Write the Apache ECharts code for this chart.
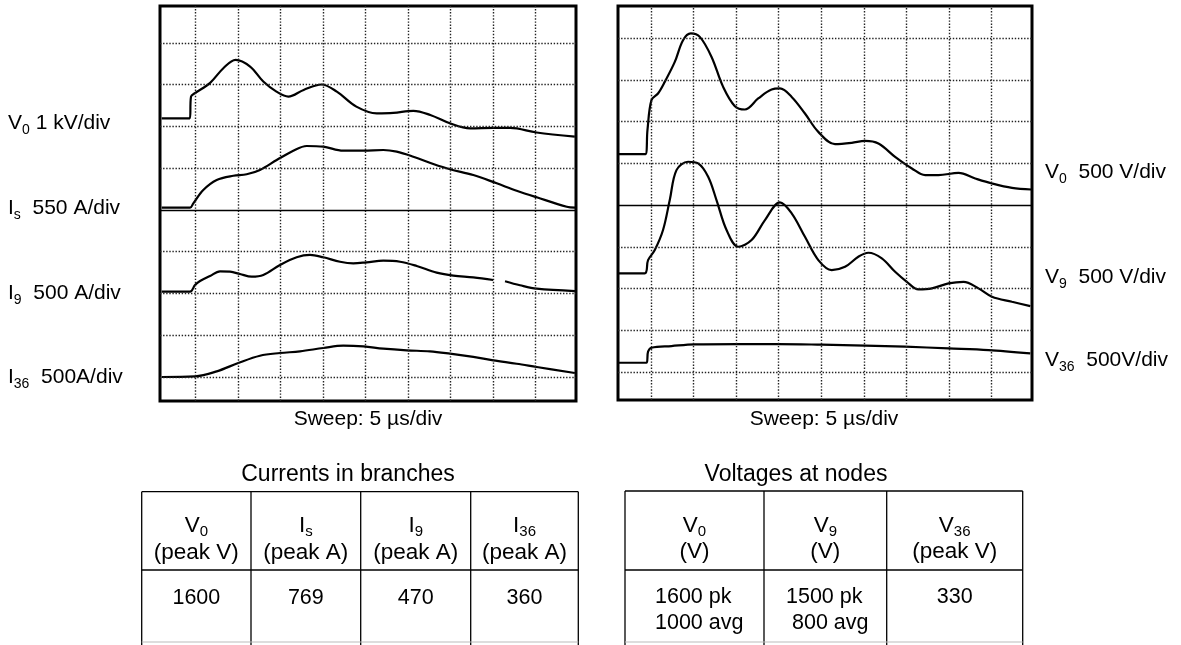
<!DOCTYPE html>
<html><head><meta charset="utf-8">
<script src="https://cdn.jsdelivr.net/npm/echarts@6/dist/echarts.min.js"></script>
<style>html,body{margin:0;padding:0;background:#fff}#c{width:1181px;height:645px}</style>
</head><body><div id="c"></div>
<script>
// ---------- DATA (time in microseconds, 5 us/div) ----------
// Left oscillogram: currents in branches
const tV0L = [1.0, 4.3, 4.45, 4.9, 6.7, 8.25, 9.7, 11.4, 12.95, 14.5, 15.9, 17.7, 19.8, 21.6, 23.9, 26.3, 28.25, 30.6, 32.6, 34.9, 37.3, 40.0, 42.0, 45.1, 49.6];
const vV0L = [0, 0, 520, 600, 850, 1200, 1400, 1240, 880, 640, 520, 680, 810, 640, 280, 120, 130, 180, 80, -120, -240, -230, -230, -340, -440]; // V

const tIsL = [1.0, 4.33, 4.72, 5.89, 7.47, 9.42, 11.0, 12.56, 14.53, 16.48, 18.06, 20.01, 22.36, 24.72, 27.07, 28.65, 30.6, 32.95, 34.92, 37.66, 40.41, 42.76, 45.12, 48.65, 49.62];
const vIsL = [0, 0, 58, 233, 365, 421, 440, 497, 628, 751, 813, 804, 751, 751, 760, 738, 672, 576, 506, 431, 321, 224, 137, 13, 0]; // A

const tI9L = [1.0, 4.33, 4.92, 5.51, 6.68, 7.86, 9.04, 10.21, 11.59, 12.95, 14.92, 16.88, 18.45, 20.01, 21.98, 23.54, 25.12, 27.07, 29.04, 31.0, 33.35, 35.31, 37.66, 40.01, 40.7, 41.39, 43.15, 45.12, 49.62];
const vI9L = [0, 0, 80, 128, 188, 244, 240, 212, 180, 200, 320, 412, 440, 412, 359, 340, 352, 371, 359, 308, 228, 192, 172, 140, null, 125, 77, 36, 8]; // A

const tI36L = [1.0, 4.92, 7.47, 10.01, 12.56, 14.92, 17.27, 20.01, 22.36, 24.72, 27.07, 29.82, 32.56, 34.92, 37.66, 40.01, 42.76, 45.12, 49.6];
const vI36L = [0, 7, 67, 168, 255, 287, 307, 347, 375, 366, 339, 319, 307, 279, 240, 199, 159, 120, 48]; // A

// Right oscillogram: voltages at nodes
const tV0R = [1.12, 4.34, 4.58, 5.05, 5.82, 6.61, 7.79, 8.76, 9.67, 10.73, 12.11, 13.47, 14.85, 16.02, 17.59, 19.16, 20.14, 21.52, 23.08, 24.65, 26.61, 28.58, 30.15, 31.71, 33.67, 35.64, 37.2, 38.76, 41.12, 43.08, 45.05, 47.4, 49.67];
const vV0R = [0, 0, 287, 647, 727, 866, 1105, 1365, 1446, 1405, 1165, 806, 575, 535, 667, 775, 787, 686, 487, 267, 120, 135, 159, 128, -32, -171, -251, -251, -224, -291, -351, -404, -423]; // V

const tV9R = [1.12, 4.26, 4.65, 5.44, 6.41, 7.2, 7.99, 9.35, 10.53, 11.71, 12.69, 13.87, 15.24, 16.81, 18.38, 20.14, 21.52, 23.08, 24.65, 26.22, 27.79, 29.35, 30.53, 32.11, 33.67, 35.05, 36.41, 37.99, 39.94, 41.71, 43.47, 45.05, 47.4, 49.55];
const vV9R = [0, 0, 159, 279, 519, 878, 1237, 1337, 1317, 1157, 878, 519, 319, 399, 638, 850, 719, 438, 159, 40, 79, 199, 247, 180, 19, -101, -192, -180, -120, -101, -180, -280, -340, -392]; // V

const tV36R = [1.12, 4.46, 4.65, 5.05, 7.4, 10.14, 15.24, 19.94, 25.05, 30.15, 34.86, 39.94, 44.65, 49.55];
const vV36R = [0, 0, 132, 180, 200, 220, 224, 224, 216, 204, 192, 172, 152, 113]; // V

// Graticule (time gridlines in us, vertical divisions)
const gridTimes = [5, 10, 15, 20, 25, 30, 35, 40, 45];
const gridDivs = [0, 1, 2, 3, 4, 5, 6, 7, 8];
const centerDiv = 4;

// Tables
const currentsTitle = 'Currents in branches';
const currentsSym = [['V', '0'], ['I', 's'], ['I', '9'], ['I', '36']];
const currentsUnit = ['(peak V)', '(peak A)', '(peak A)', '(peak A)'];
const currentsVal = ['1600', '769', '470', '360'];

const voltagesTitle = 'Voltages at nodes';
const voltagesSym = [['V', '0'], ['V', '9'], ['V', '36']];
const voltagesUnit = ['(V)', '(V)', '(peak V)'];
const voltagesPk = ['1600 pk', '1500 pk', '330'];
const voltagesAvg = ['1000 avg', '800 avg', ''];

const leftLabels = [['V', '0', ' 1 kV/div'], ['I', 's', '  550 A/div'], ['I', '9', '  500 A/div'], ['I', '36', '  500A/div']];
const rightLabels = [['V', '0', '  500 V/div'], ['V', '9', '  500 V/div'], ['V', '36', '  500V/div']];
const sweepLabel = 'Sweep: 5 \u00b5s/div';

// ---------- LAYOUT / STYLE ----------
const traces = [
  { g: 0, t: tV0L, v: vV0L, perDiv: 1000, base: 6.196 },
  { g: 0, t: tIsL, v: vIsL, perDiv: 550, base: 4.055 },
  { g: 0, t: tI9L, v: vI9L, perDiv: 500, base: 2.043 },
  { g: 0, t: tI36L, v: vI36L, perDiv: 500, base: 0.0 },
  { g: 1, t: tV0R, v: vV0R, perDiv: 500, base: 5.22 },
  { g: 1, t: tV9R, v: vV9R, perDiv: 500, base: 2.364 },
  { g: 1, t: tV36R, v: vV36R, perDiv: 500, base: 0.223 }
];
const FONT = '"Liberation Sans", Arial, Helvetica, sans-serif';
const dot = { color: '#222', width: 1.4, type: [1.4, 1.7] };
const solid = { color: '#000', width: 1.3, type: 'solid' };
const rich = {
  m: { fontSize: 21, fontFamily: FONT, fill: '#000' },
  s: { fontSize: 14, fontFamily: FONT, fill: '#000', padding: [14, 0, 0, 0] },
  h: { fontSize: 22.5, fontFamily: FONT, fill: '#000' },
  hs: { fontSize: 15, fontFamily: FONT, fill: '#000', padding: [12, 0, 0, 0] }
};

function markLines() {
  return {
    silent: true, symbol: ['none', 'none'], label: { show: false }, animation: false,
    emphasis: { disabled: true },
    data: gridTimes.map(t => ({ xAxis: t, lineStyle: dot }))
      .concat(gridDivs.map(d => ({ yAxis: d, lineStyle: d === centerDiv ? solid : dot })))
  };
}

const series = traces.map((tr, i) => {
  const s = {
    type: 'line', xAxisIndex: tr.g, yAxisIndex: tr.g,
    data: tr.t.map((t, k) => tr.v[k] == null ? [t, '-'] : [t, tr.base + tr.v[k] / tr.perDiv]),
    showSymbol: false, symbol: 'none', smooth: 0.35, connectNulls: false,
    lineStyle: { color: '#000', width: 2.2 }, silent: true, animation: false, z: 3
  };
  if (i === 0 || i === 4) s.markLine = markLines();
  return s;
});

function txt(x, y, text, opt) {
  return Object.assign({ type: 'text', x: x, y: y, silent: true, z: 10,
    style: Object.assign({ text: text, rich: rich, font: '21px ' + FONT, fill: '#000', align: 'left', verticalAlign: 'middle' }, opt || {}) });
}
function ln(x1, y1, x2, y2, color, w) {
  return { type: 'line', silent: true, z: 10, shape: { x1, y1, x2, y2 }, style: { stroke: color || '#000', lineWidth: w || 1.3 } };
}
const graphics = [];
// channel labels
const leftY = [123, 208, 293, 377];
leftLabels.forEach((l, i) => graphics.push(txt(8, leftY[i], `{m|${l[0]}}{s|${l[1]}}{m|${l[2]}}`)));
const rightY = [172, 277, 360];
rightLabels.forEach((l, i) => graphics.push(txt(1045, rightY[i], `{m|${l[0]}}{s|${l[1]}}{m|${l[2]}}`)));
// sweep labels
graphics.push(txt(368, 419, sweepLabel, { align: 'center', font: '21px ' + FONT }));
graphics.push(txt(824, 419, sweepLabel, { align: 'center', font: '21px ' + FONT }));
// left table
const lx = [141.7, 251, 360.7, 470.7, 578.3];
graphics.push(txt(348, 475, currentsTitle, { align: 'center', font: '23px ' + FONT }));
lx.forEach(x => graphics.push(ln(x, 491.7, x, 645)));
graphics.push(ln(lx[0], 491.7, lx[4], 491.7));
graphics.push(ln(lx[0], 570, lx[4], 570));
graphics.push(ln(lx[0], 642, lx[4], 642, '#bbb', 1));
currentsSym.forEach((s, i) => {
  const cx = (lx[i] + lx[i + 1]) / 2;
  graphics.push(txt(cx, 526, `{h|${s[0]}}{hs|${s[1]}}`, { align: 'center' }));
  graphics.push(txt(cx, 553, currentsUnit[i], { align: 'center', font: '22.5px ' + FONT }));
  graphics.push(txt(cx, 598, currentsVal[i], { align: 'center', font: '21.5px ' + FONT }));
});
// right table
const rx = [625, 764, 886.7, 1022.7];
graphics.push(txt(796, 475, voltagesTitle, { align: 'center', font: '23px ' + FONT }));
rx.forEach(x => graphics.push(ln(x, 491, x, 645)));
graphics.push(ln(rx[0], 491, rx[3], 491));
graphics.push(ln(rx[0], 570, rx[3], 570));
graphics.push(ln(rx[0], 642, rx[3], 642, '#bbb', 1));
const pkX = [655, 786, null];
const avgX = [655, 792, null];
voltagesSym.forEach((s, i) => {
  const cx = (rx[i] + rx[i + 1]) / 2;
  graphics.push(txt(cx, 526, `{h|${s[0]}}{hs|${s[1]}}`, { align: 'center' }));
  graphics.push(txt(cx, 552, voltagesUnit[i], { align: 'center', font: '22.5px ' + FONT }));
  if (pkX[i] == null) {
    graphics.push(txt(cx, 597, voltagesPk[i], { align: 'center', font: '21.5px ' + FONT }));
  } else {
    graphics.push(txt(pkX[i], 597, voltagesPk[i], { font: '21.5px ' + FONT }));
    graphics.push(txt(avgX[i], 623, voltagesAvg[i], { font: '21.5px ' + FONT }));
  }
});

const chart = echarts.init(document.getElementById('c'), null, { renderer: 'canvas' });
chart.setOption({
  animation: false,
  backgroundColor: '#fff',
  grid: [
    { left: 160, top: 6, width: 416, height: 395, show: true, borderColor: '#000', borderWidth: 3, backgroundColor: 'transparent' },
    { left: 618, top: 6, width: 414, height: 394, show: true, borderColor: '#000', borderWidth: 3, backgroundColor: 'transparent' }
  ],
  xAxis: [
    { gridIndex: 0, type: 'value', min: 0.8, max: 49.74, show: false },
    { gridIndex: 1, type: 'value', min: 1.12, max: 49.75, show: false }
  ],
  yAxis: [
    { gridIndex: 0, type: 'value', min: -0.575, max: 8.886, show: false },
    { gridIndex: 1, type: 'value', min: -0.67, max: 8.77, show: false }
  ],
  series: series,
  graphic: graphics
});
</script></body></html>
